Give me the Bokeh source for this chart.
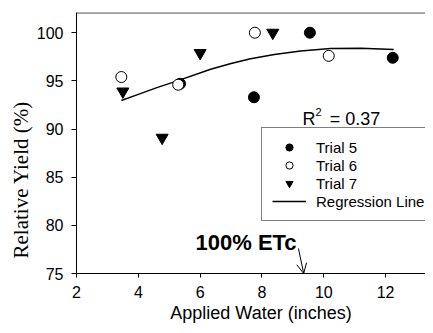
from bokeh.plotting import figure
from bokeh.models import Label, Span, Arrow, OpenHead, Legend, LegendItem, FixedTicker
from bokeh.embed import file_html
from bokeh.resources import INLINE

# Data
trial5_x = [5.35, 7.74, 9.55, 12.23]
trial5_y = [94.7, 93.3, 100.0, 97.4]
trial6_x = [3.45, 5.29, 7.77, 10.16]
trial6_y = [95.4, 94.6, 100.0, 97.6]
trial7_x = [3.50, 4.77, 6.00, 8.35]
trial7_y = [93.9, 89.1, 97.9, 100.0]
reg_x = [3.45, 4.0, 4.6, 5.26, 6.34, 7.0, 7.63, 8.4, 9.25, 10.22, 11.2, 12.26]
reg_y = [92.96, 93.6, 94.3, 95.0, 96.2, 96.8, 97.3, 97.75, 98.1, 98.35, 98.4, 98.25]
x_ticks = [2, 4, 6, 8, 10, 12]
y_ticks = [75, 80, 85, 90, 95, 100]

SANS = "Liberation Sans"
SERIF = "Liberation Serif"
NB = "\u00a0"

p = figure(width=425, height=325, x_range=(2, 13.29), y_range=(75, 102.1),
           min_border_left=76, min_border_right=0, min_border_top=12, min_border_bottom=52,
           output_backend="svg", toolbar_location=None)
p.background_fill_color = "white"
p.border_fill_color = "white"
p.outline_line_color = None
p.grid.visible = False

for ax in (p.xaxis[0], p.yaxis[0]):
    ax.axis_line_color = "black"
    ax.axis_line_width = 1
    ax.major_tick_line_color = "black"
    ax.minor_tick_line_color = None
    ax.major_tick_in = 0
    ax.major_label_text_font = SANS
    ax.major_label_text_font_size = "16px"
    ax.major_label_text_color = "black"
    ax.axis_label_text_color = "black"
    ax.axis_label_text_font_style = "normal"
p.xaxis[0].ticker = FixedTicker(ticks=x_ticks)
p.yaxis[0].ticker = FixedTicker(ticks=y_ticks)
p.xaxis[0].major_tick_out = 4
p.yaxis[0].major_tick_out = 5
p.xaxis[0].major_label_standoff = 8
p.yaxis[0].major_label_standoff = 8

p.xaxis[0].axis_label = NB * 4 + "Applied Water (inches)"
p.xaxis[0].axis_label_text_font = SANS
p.xaxis[0].axis_label_text_font_size = "18px"
p.xaxis[0].axis_label_standoff = 2

p.yaxis[0].axis_label = "Relative Yield (%)" + NB * 14
p.yaxis[0].axis_label_text_font = SERIF
p.yaxis[0].axis_label_text_font_size = "21px"
p.yaxis[0].axis_label_standoff = 1

p.add_layout(Span(location=102.06, dimension="width", line_color="black", line_width=1))

r_reg = p.line(reg_x, reg_y, line_color="black", line_width=1.5)
r5 = p.scatter(trial5_x, trial5_y, marker="circle", size=11, fill_color="black", line_color="black")
r6 = p.scatter(trial6_x, trial6_y, marker="circle", size=11, fill_color="white", line_color="black", line_width=1)
r7 = p.scatter(trial7_x, trial7_y, marker="inverted_triangle", size=12, fill_color="black", line_color="black")

legend = Legend(items=[LegendItem(label="Trial 5", renderers=[r5]),
                       LegendItem(label="Trial 6", renderers=[r6]),
                       LegendItem(label="Trial 7", renderers=[r7]),
                       LegendItem(label="Regression Line", renderers=[r_reg])],
                location=(185, 52), orientation="vertical",
                label_text_font=SANS, label_text_font_size="15px", label_text_color="black",
                glyph_width=34, glyph_height=18, label_height=18, label_standoff=10,
                spacing=0, padding=10, margin=0,
                border_line_color="black", border_line_width=1,
                background_fill_color="white", background_fill_alpha=1)
p.add_layout(legend, "center")

# R^2 annotation
p.add_layout(Label(x=9.314, y=91.0, text="R", text_font=SANS, text_font_size="18px",
                   text_align="left", text_baseline="alphabetic", text_color="black"))
p.add_layout(Label(x=9.735, y=91.82, text="2", text_font=SANS, text_font_size="11px",
                   text_align="left", text_baseline="alphabetic", text_color="black"))
p.add_layout(Label(x=10.19, y=91.0, text="= 0.37", text_font=SANS, text_font_size="18px",
                   text_align="left", text_baseline="alphabetic", text_color="black"))

# 100% ETc annotation
p.add_layout(Label(x=5.85, y=78.26, text="100% ETc", text_font=SANS, text_font_size="22px",
                   text_font_style="bold", text_align="left", text_baseline="alphabetic",
                   text_color="black"))
p.add_layout(Arrow(x_start=9.18, y_start=77.6, x_end=9.35, y_end=75.0,
                   line_color="black", line_width=1,
                   end=OpenHead(size=10, line_color="black", line_width=1)))

open("out.html", "w").write(file_html(p, INLINE))
